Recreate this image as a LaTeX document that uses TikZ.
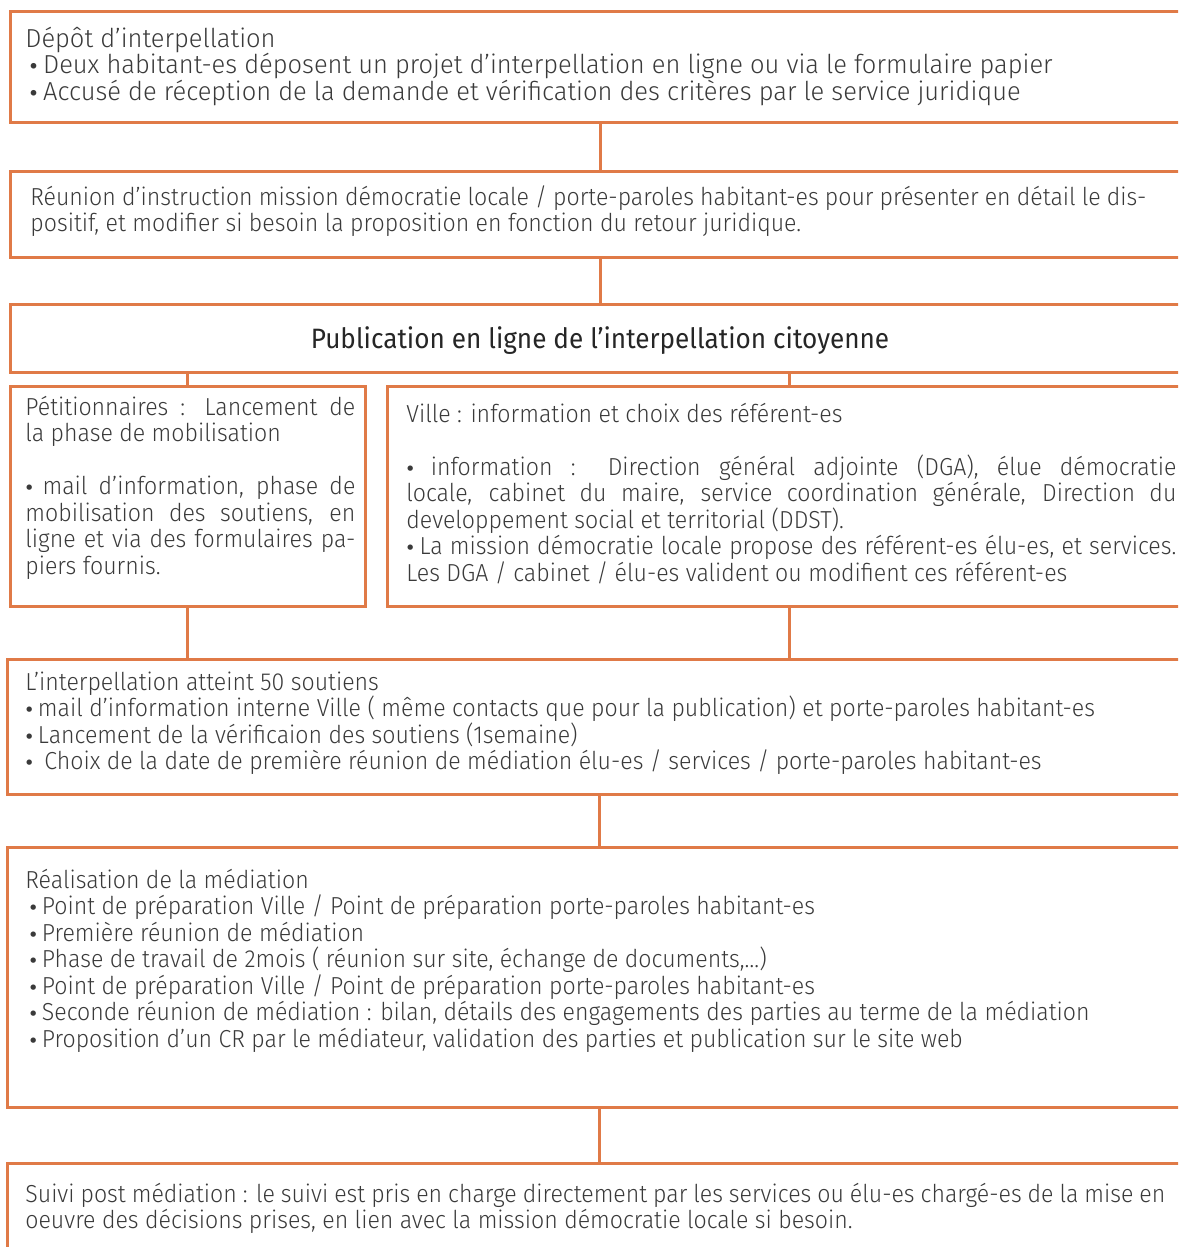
\documentclass[tikz,border=0pt]{standalone}
\usepackage{fontspec}
\setmainfont{Fira Sans Light}[FakeStretch=0.94]
\newfontfamily\bigbody{Fira Sans Light}[FakeStretch=0.98]
\newfontfamily\titlefont{Fira Sans}[FakeStretch=0.934]
\newfontfamily\bulfont{DejaVu Sans}[Scale=0.75]
\newcommand\bul{\kern-0.8pt{\bulfont •}\kern-1.6pt}
\definecolor{boxorange}{HTML}{E07A47}
\definecolor{txt}{HTML}{3A3A3A}
\definecolor{titletxt}{HTML}{262626}
\newcommand\bodyfont{\fontsize{12.3}{13.25}\selectfont}
\newcommand\firstbodyfont{\bigbody\fontsize{13}{13.25}\selectfont}
\newcommand\firststrut{\rule{0pt}{12pt}}
\begin{document}
\begin{tikzpicture}[x=0.5pt,y=-0.5pt,
  box/.style={draw=boxorange,line width=1.5pt,rectangle,inner sep=0pt},
  link/.style={draw=boxorange,line width=1.5pt},
  body/.style={anchor=north west,inner sep=0pt,align=left,text=txt,font=\bodyfont}]
\useasboundingbox (0,0) rectangle (1178,1247);
\clip (0,0) rectangle (1178,1247);
% boxes
\node[box,minimum width=590pt,minimum height=55.5pt] (b1) at (600,67.5) {};
\node[box,minimum width=590pt,minimum height=43pt] (b2) at (600,214) {};
\node[box,minimum width=590pt,minimum height=34pt] (b3) at (600,338) {};
\node[box,minimum width=177.5pt,minimum height=110pt] (b4) at (187.5,496) {};
\node[box,minimum width=402pt,minimum height=110pt] (b5) at (789,496) {};
\node[box,minimum width=592pt,minimum height=67.5pt] (b6) at (599,726.5) {};
\node[box,minimum width=592pt,minimum height=130pt] (b7) at (599,977) {};
\node[box,minimum width=592pt,minimum height=68.5pt] (b8) at (599,1231.5) {};
% connectors
\draw[link] (b1.south) -- (b2.north);
\draw[link] (b2.south) -- (b3.north);
\draw[link] (b3.south -| b4.north) -- (b4.north);
\draw[link] (b3.south -| b5.north) -- (b5.north);
\draw[link] (b4.south) -- (b4.south |- b6.north);
\draw[link] (b5.south) -- (b5.south |- b6.north);
\draw[link] (b6.south) -- (b7.north);
\draw[link] (b7.south) -- (b8.north);
% texts
\node[body,font=\firstbodyfont] (t1) at (25,23) {\firststrut Dépôt d’interpellation\\
\hspace*{2pt}\bul{} Deux habitant-es déposent un projet d’interpellation en ligne ou via le formulaire papier\\
\hspace*{2pt}\bul{} Accusé de réception de la demande et vérification des critères par le service juridique};
\node[body] (t2) at (30,181) {\firststrut\makebox[558pt][s]{Réunion d’instruction mission démocratie locale / porte-paroles habitant-es pour présenter en détail le dis-}\\
positif, et modifier si besoin la proposition en fonction du retour juridique.};
\node[anchor=base,inner sep=0pt,text=titletxt,font=\titlefont\fontsize{14}{16}\selectfont] (t3) at (600,348) {Publication en ligne de l’interpellation citoyenne};
\node[body] (t4) at (25,391) {\firststrut\makebox[165pt][s]{Pétitionnaires : Lancement de}\\
la phase de mobilisation\\[13.25pt]
\makebox[165pt][s]{\bul{} mail d’information, phase de}\\
\makebox[165pt][s]{mobilisation des soutiens, en}\\
\makebox[165pt][s]{ligne et via des formulaires pa-}\\
piers fournis.};
\node[body] (t5) at (406,398) {\firststrut Ville : information et choix des référent-es\\[13.25pt]
\makebox[385pt][s]{\bul{} information : Direction général adjointe (DGA), élue démocratie}\\
\makebox[385pt][s]{locale, cabinet du maire, service coordination générale, Direction du}\\
developpement social et territorial (DDST).\\
\makebox[385pt][s]{\bul{} La mission démocratie locale propose des référent-es élu-es, et services.}\\
Les DGA / cabinet / élu-es valident ou modifient ces référent-es};
\node[body] (t6) at (25,666) {\firststrut L’interpellation atteint 50 soutiens\\
\bul{} mail d’information interne Ville ( même contacts que pour la publication) et porte-paroles habitant-es\\
\bul{} Lancement de la vérificaion des soutiens (1semaine)\\
\bul\ \ Choix de la date de première réunion de médiation élu-es / services / porte-paroles habitant-es};
\node[body] (t7) at (25,864) {\firststrut Réalisation de la médiation\\
\hspace*{2pt}\bul{} Point de préparation Ville / Point de préparation porte-paroles habitant-es\\
\hspace*{2pt}\bul{} Première réunion de médiation\\
\hspace*{2pt}\bul{} Phase de travail de 2mois ( réunion sur site, échange de documents,…)\\
\hspace*{2pt}\bul{} Point de préparation Ville / Point de préparation porte-paroles habitant-es\\
\hspace*{2pt}\bul{} Seconde réunion de médiation : bilan, détails des engagements des parties au terme de la médiation\\
\hspace*{2pt}\bul{} Proposition d’un CR par le médiateur, validation des parties et publication sur le site web};
\node[body] (t8) at (25,1178) {\firststrut\makebox[570pt][s]{Suivi post médiation : le suivi est pris en charge directement par les services ou élu-es chargé-es de la mise en}\\
oeuvre des décisions prises, en lien avec la mission démocratie locale si besoin.};
\end{tikzpicture}
\end{document}
